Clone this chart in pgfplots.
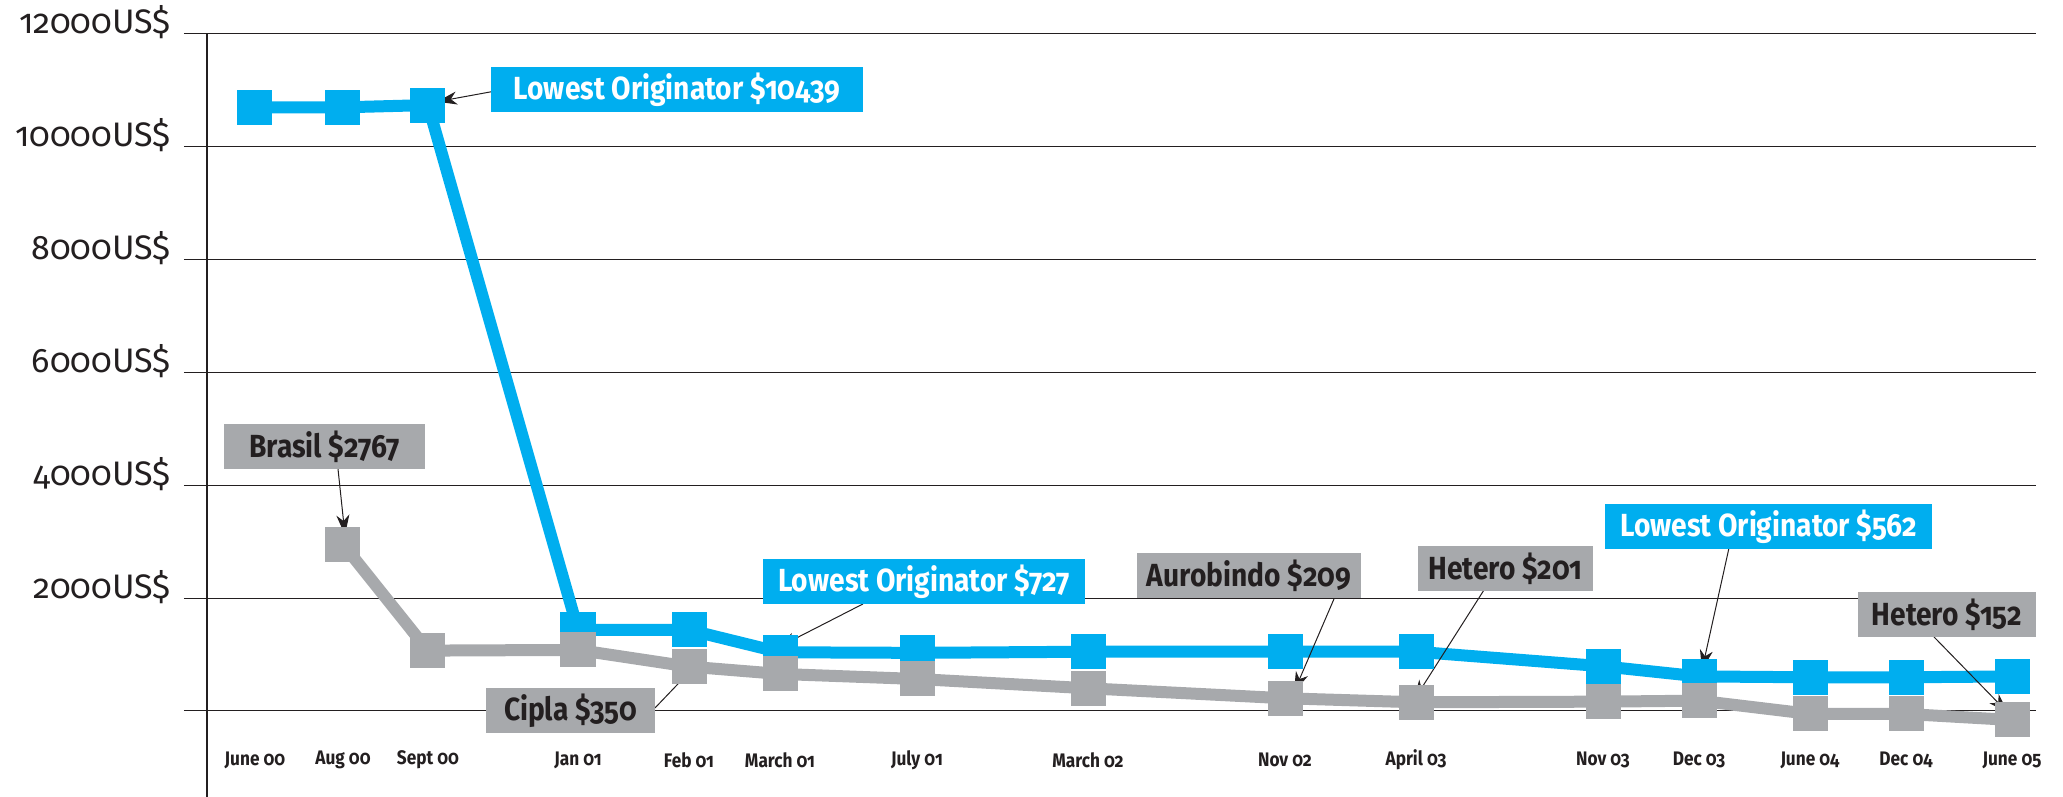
\documentclass[border=0pt]{standalone}
\usepackage{fontspec}
\setmainfont{Fira Sans}[Numbers=OldStyle]
\newfontfamily\lblfont{Fira Sans}[Numbers=OldStyle,FakeStretch=0.88]
\usepackage{pgfplots}
\pgfplotsset{compat=1.18}
\usetikzlibrary{arrows.meta}

\definecolor{origblue}{HTML}{00AEEF}
\definecolor{genGray}{HTML}{A7A9AC}
\definecolor{ink}{HTML}{231F20}

% x positions follow the original drawing (not a strict time scale)
\begin{document}
\begin{tikzpicture}[
  box/.style={inner sep=0pt, minimum height=22.5pt, font=\lblfont\bfseries\fontsize{16}{16}\selectfont},
  bluebox/.style={box, fill=origblue, text=white},
  graybox/.style={box, fill=genGray, text=ink},
  arr/.style={-{Stealth[length=10pt,width=6.5pt,inset=3pt]}, line width=0.5pt, ink},
]
\begin{axis}[
  name=ax,
  scale only axis,
  width=914.5pt, height=381.5pt,
  xmin=207, xmax=2036,
  ymin=-1525, ymax=12000,
  scaled x ticks=false, scaled y ticks=false,
  axis y line*=left,
  axis x line*=bottom,
  x axis line style={draw=none},
  y axis line style={ink, line width=0.6pt},
  xtick={255,343,428,578,689,780,917,1088,1285,1416,1603,1699,1810,1906,2012},
  xticklabels={June 00,Aug 00,Sept 00,Jan 01,Feb 01,March 01,July 01,March 02,Nov 02,April 03,Nov 03,Dec 03,June 04,Dec 04,June 05},
  xtick style={draw=none},
  xticklabel style={font=\lblfont\bfseries\fontsize{9.8}{10}\selectfont, anchor=center, yshift=30pt, text=ink},
  ytick={0,2000,4000,6000,8000,10000,12000},
  yticklabels={,2000US\$,4000US\$,6000US\$,8000US\$,10000US\$,12000US\$},
  ytick style={ink, line width=0.5pt},
  tick align=outside,
  major tick length=11.5pt,
  yticklabel style={font=\fontsize{17}{17}\selectfont, anchor=base east, text=ink, inner sep=0pt, xshift=-6.5pt},
  ymajorgrids,
  grid style={ink, line width=0.5pt},
  clip=false,
  every axis plot/.append style={line width=6pt, mark=square*, mark size=5.75pt, mark options={solid}},
]

% lowest originator price
\addplot[color=origblue] coordinates {
  (255,10700) (343,10700) (428,10740) (578,1436) (689,1436) (780,1040)
  (917,1030) (1088,1050) (1285,1050) (1416,1050) (1603,792) (1699,612)
  (1810,597) (1906,597) (2012,612)
};

% lowest generic price
\addplot[color=genGray] coordinates {
  (343,2955) (428,1070) (578,1082) (689,786) (780,656) (917,567)
  (1088,402) (1285,225) (1416,154) (1603,165) (1699,183) (1810,-53)
  (1906,-53) (2012,-160)
};

\draw[arr] (axis cs:491,10975) -- (axis cs:437,10800);
\node[bluebox, minimum width=186pt] at (axis cs:677,11010) {Lowest Originator \$10439};

\draw[arr] (axis cs:338,4291) -- (axis cs:345,3120);
\node[graybox, minimum width=100.5pt] at (axis cs:324.5,4690) {Brasil \$2767};

\draw[arr] (axis cs:655,53) -- (axis cs:699,869);
\node[graybox, minimum width=84.5pt] at (axis cs:570.5,0) {Cipla \$350};

\draw[arr] (axis cs:863,1897) -- (axis cs:777,1117);
\node[bluebox, minimum width=161pt] at (axis cs:924,2287) {Lowest Originator \$727};

\draw[arr] (axis cs:1334,1986) -- (axis cs:1294,337);
\node[graybox, minimum width=112pt] at (axis cs:1249,2394) {Aurobindo \$209};

\draw[arr] (axis cs:1484,2145) -- (axis cs:1414,195);
\node[graybox, minimum width=87.5pt] at (axis cs:1505.5,2527) {Hetero \$201};

\draw[arr] (axis cs:1729,2890) -- (axis cs:1702,727);
\node[bluebox, minimum width=163.5pt] at (axis cs:1768.5,3271) {Lowest Originator \$562};

\draw[arr] (axis cs:1934,1312) -- (axis cs:2008,-35);
\node[graybox, minimum width=89pt] at (axis cs:1947,1711) {Hetero \$152};

\end{axis}
\pgfresetboundingbox
\path (ax.south west) ++(-103.5pt,0pt) rectangle ([xshift=13.5pt,yshift=17pt]ax.north east);
\end{tikzpicture}
\end{document}
